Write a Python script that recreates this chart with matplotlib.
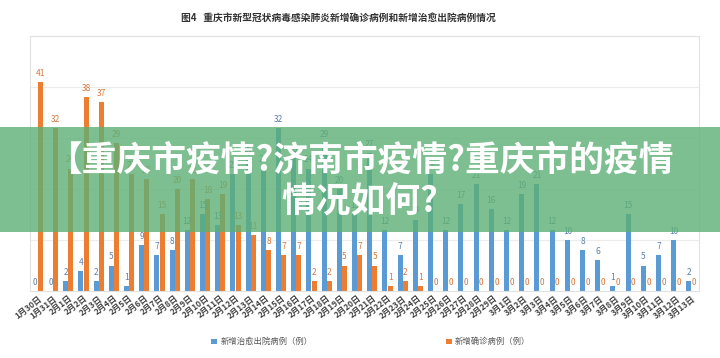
import matplotlib
matplotlib.use("Agg")
import matplotlib.pyplot as plt
from matplotlib.patches import Rectangle
import numpy as np

plt.rcParams['font.family'] = ['Noto Sans CJK SC', 'DejaVu Sans']

# dates 1/30 .. 3/13
dates = (["1月30日", "1月31日"]
         + [f"2月{d}日" for d in range(1, 30)]
         + [f"3月{d}日" for d in range(1, 14)])

# new discharged (blue)
discharged = [0, 0, 2, 4, 2, 5, 1, 9, 7, 8, 12, 15, 13, 23, 26, 24,
              32, 26, 24, 29, 20, 15, 27, 12, 7, 14, 23, 12, 17, 21, 16,
              12, 19, 21, 12, 10, 8, 6, 1, 15, 5, 7, 10, 2]
# new confirmed (orange)
confirmed = [41, 32, 24, 38, 37, 29, 23, 22, 15, 20, 22, 18, 19, 13, 11, 8,
             7, 7, 2, 2, 5, 7, 5, 1, 2, 1, 0, 0, 0, 0, 0,
             0, 0, 0, 0, 0, 0, 0, 0, 0, 0, 0, 0, 0]

blue = '#5B9BD5'
orange = '#ED7D31'

fig = plt.figure(figsize=(7.2, 3.58), dpi=100)
ax = fig.add_axes([0.042, 0.187, 0.929, 0.713])

x = np.arange(len(dates))
w = 0.33
b1 = ax.bar(x - 0.17, discharged, w, color=blue, label='新增治愈出院病例（例）')
b2 = ax.bar(x + 0.17, confirmed, w, color=orange, label='新增确诊病例（例）')

for xi, v in zip(x, discharged):
    ax.text(xi - 0.17, v + 0.8, str(v), ha='center', va='bottom',
            fontsize=6, color='#5a7fa8')
for xi, v in zip(x, confirmed):
    ax.text(xi + 0.17, v + 0.8, str(v), ha='center', va='bottom',
            fontsize=6, color='#d9773a')

ax.set_xlim(-0.5, len(dates) - 0.5)
ax.set_ylim(0, 50)
ax.set_yticks([10, 20, 30, 40, 50])
ax.yaxis.grid(True, color='#ececec', linewidth=0.8)
ax.set_axisbelow(True)
ax.tick_params(axis='y', left=False, labelleft=False)
ax.tick_params(axis='x', length=0, pad=2)
ax.set_xticks(x)
ax.set_xticklabels(dates, rotation=38, ha='right', rotation_mode='anchor',
                   fontsize=6, color='#444444', fontweight='bold')
for s in ax.spines.values():
    s.set_color('#e2e2e2')
    s.set_linewidth(0.8)

fig.text(0.47, 0.95, '图4   重庆市新型冠状病毒感染肺炎新增确诊病例和新增治愈出院病例情况',
         ha='center', va='center', fontsize=7, fontweight='bold', color='#333333')

fig.legend(handles=[b1, b2], loc='center', bbox_to_anchor=(0.515, 0.045), ncol=2,
           frameon=False, fontsize=6, handlelength=0.7, handleheight=0.7,
           columnspacing=16, handletextpad=0.4, labelcolor='#555555')

# green banner overlay
fig.patches.append(Rectangle((0, 0.352), 1, 0.293, transform=fig.transFigure,
                             facecolor='#5DB075', alpha=0.8, edgecolor='none',
                             zorder=10))
fig.text(0.5, 0.553, '【重庆市疫情?济南市疫情?重庆市的疫情', ha='center', va='center',
         fontsize=25, fontweight='bold', color='white', zorder=11)
fig.text(0.5, 0.44, '情况如何?', ha='center', va='center',
         fontsize=25, fontweight='bold', color='white', zorder=11)

fig.savefig('out.png', dpi=100)
